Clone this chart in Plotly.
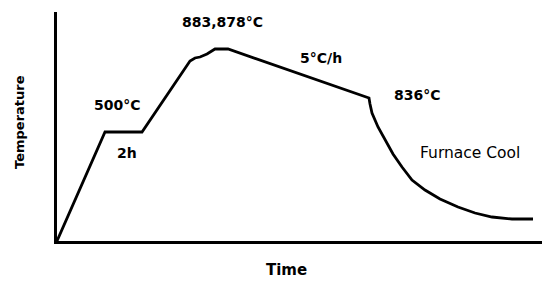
import plotly.graph_objects as go

# Schematic heat-treatment schedule (arbitrary time units, schematic temperature units)
time = [0, 48, 85, 133, 138, 143, 150, 158, 171, 312, 313, 315, 321, 328, 336, 345,
        355, 368, 383, 401, 418, 435, 455, 476]
temperature = [0, 109, 109, 180, 183, 184, 187, 192, 192, 143, 137, 128, 114, 101, 87, 74,
               61, 51, 42, 34, 28, 24, 22, 22]

labels = ["883,878°C", "500°C", "2h", "5°C/h", "836°C", "Furnace Cool"]
label_x = [165, 60, 70, 264, 360, 413]
label_y = [219, 136, 88, 183, 146, 88]
label_bold = [True, True, True, True, True, False]

fig = go.Figure()
fig.add_trace(go.Scatter(x=time, y=temperature, mode="lines",
                         line=dict(color="black", width=2.8),
                         hoverinfo="skip", showlegend=False))

FONT = "DejaVu Sans, sans-serif"
for t, x, y, b in zip(labels, label_x, label_y, label_bold):
    fig.add_annotation(x=x, y=y, text=(f"<b>{t}</b>" if b else t), showarrow=False,
                       font=dict(family=FONT, size=14 if b else 15.5, color="black"),
                       xanchor="center", yanchor="middle")

fig.add_annotation(xref="paper", yref="paper", x=0.4665, y=-0.125, text="<b>Time</b>",
                   showarrow=False, font=dict(family=FONT, size=15, color="black"),
                   xanchor="center", yanchor="middle")
fig.add_annotation(xref="paper", yref="paper", x=-0.075, y=0.52, text="<b>Temperature</b>",
                   textangle=-90, showarrow=False, font=dict(family=FONT, size=13, color="black"),
                   xanchor="center", yanchor="middle")

fig.update_xaxes(range=[0, 493], showline=True, linecolor="black", linewidth=3,
                 showgrid=False, zeroline=False, showticklabels=False, ticks="")
fig.update_yaxes(range=[0, 229], showline=True, linecolor="black", linewidth=3,
                 showgrid=False, zeroline=False, showticklabels=False, ticks="")

# page body has an 8px default margin, so the figure is sized/offset to compensate
fig.update_layout(width=542, height=276, margin=dict(l=49, r=0, t=4, b=43),
                  plot_bgcolor="white", paper_bgcolor="white")

fig.write_html("out.html")
